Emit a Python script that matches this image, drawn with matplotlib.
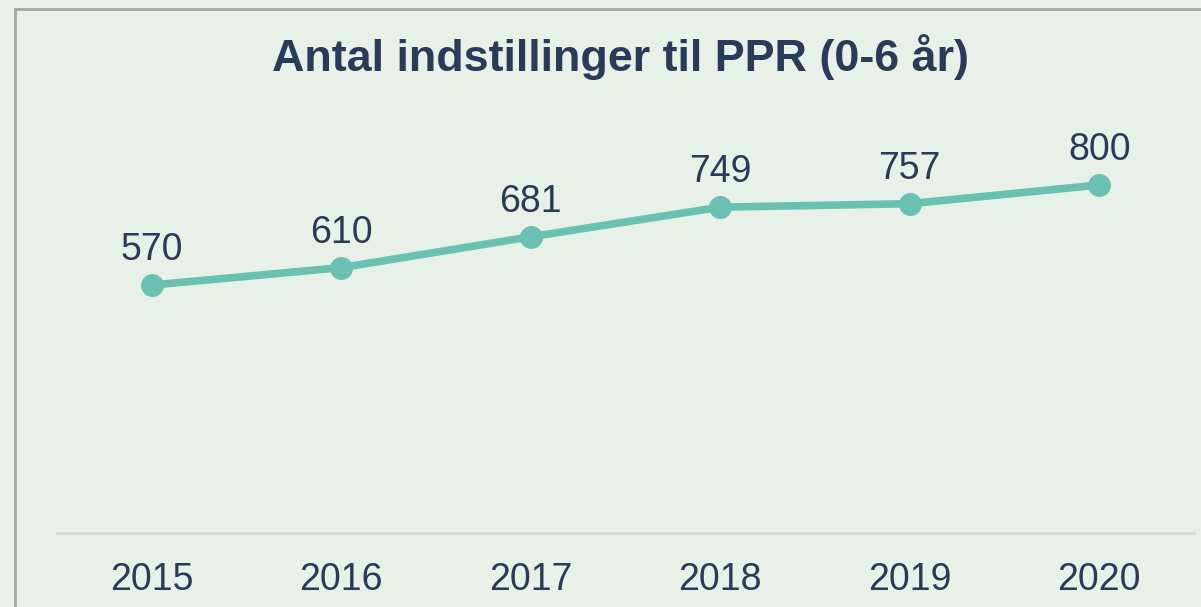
import matplotlib.pyplot as plt
from matplotlib.patches import Rectangle

years = ["2015", "2016", "2017", "2018", "2019", "2020"]
values = [570, 610, 681, 749, 757, 800]

bg = "#E8F1E8"
txt = "#2B3A58"
teal = "#6AC1B3"

plt.rcParams['font.family'] = ['Liberation Sans', 'DejaVu Sans']

fig = plt.figure(figsize=(12.01, 6.07), dpi=100, facecolor=bg)
# outer frame (runs off the right/bottom edge like the screenshot)
fig.patches.append(Rectangle((15 / 1201, -0.1), 1.2, (607 - 9) / 607 + 0.1,
                             transform=fig.transFigure, fill=False,
                             edgecolor="#A6A6A6", linewidth=2))

ax = fig.add_axes([57 / 1201, (607 - 533) / 607, (1194 - 57) / 1201, (533 - 98) / 607])
ax.set_facecolor(bg)
x = list(range(len(years)))
ax.plot(x, values, color=teal, linewidth=5.5, marker="o", markersize=15.5,
        solid_capstyle="round", zorder=3)
for xi, v in zip(x, values):
    ax.annotate(str(v), (xi, v), xytext=(0, 18), textcoords="offset points",
                ha="center", va="baseline", fontsize=27, color=txt)

ax.set_xlim(-0.5, len(years) - 0.5)
ax.set_ylim(0, 1000)
ax.set_yticks([])
ax.set_xticks(x)
ax.set_xticklabels(years, fontsize=27, color=txt)
ax.tick_params(axis="x", length=0, pad=21)
for s in ["top", "right", "left"]:
    ax.spines[s].set_visible(False)
ax.spines["bottom"].set_color("#D9D9D9")
ax.spines["bottom"].set_linewidth(2)

fig.text(621 / 1201, 1 - 71 / 607, "Antal indstillinger til PPR (0-6 år)",
         ha="center", va="baseline", fontsize=32.3, fontweight="bold", color=txt)

fig.savefig("out.png", dpi=100, facecolor=bg)
